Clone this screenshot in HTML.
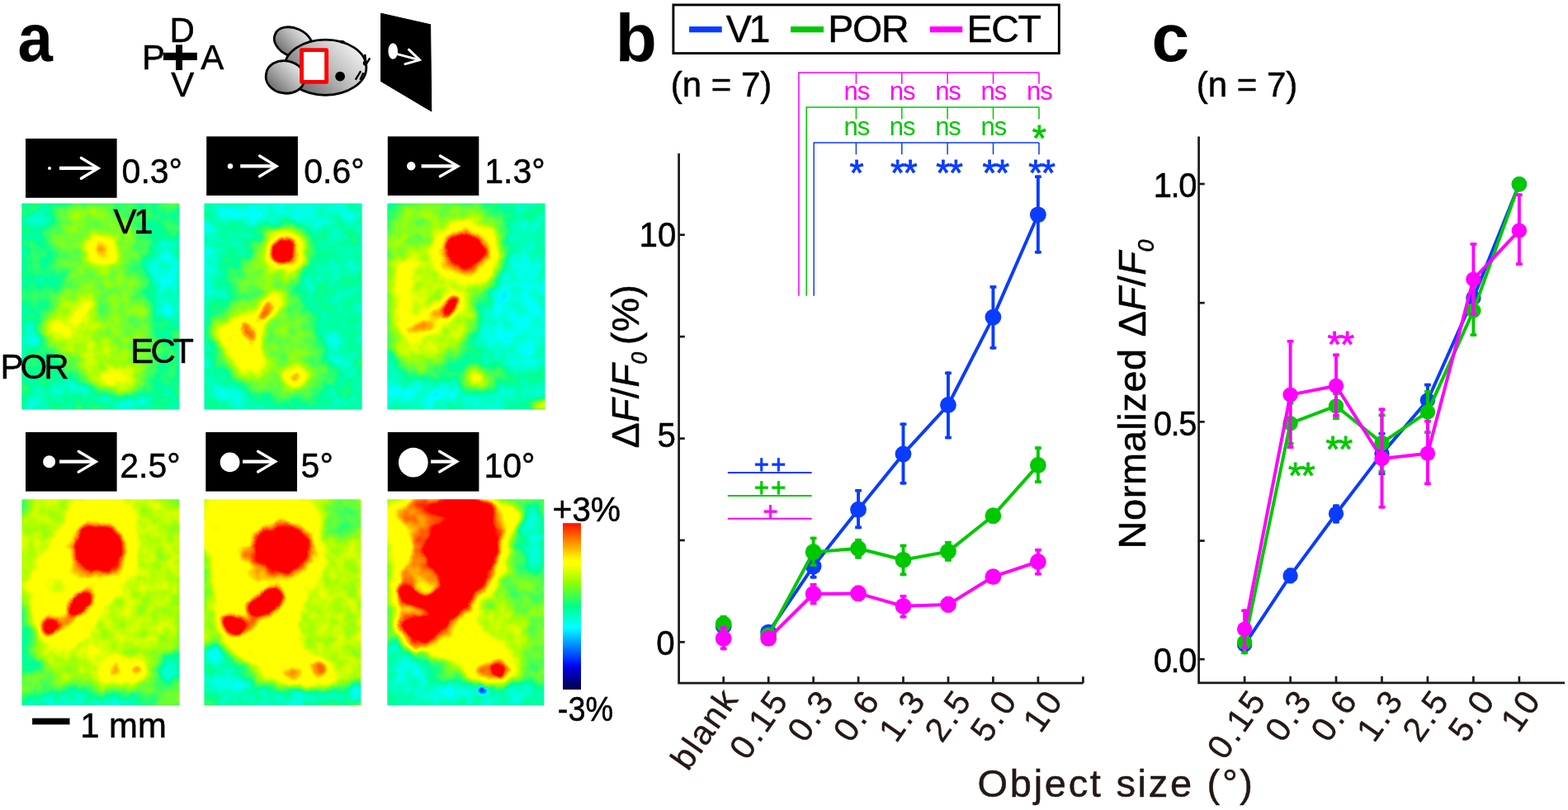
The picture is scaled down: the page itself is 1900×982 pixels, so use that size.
<!DOCTYPE html>
<html lang="en"><head><meta charset="utf-8"><title>Figure: object size responses in V1, POR and ECT</title>
<style>html,body{margin:0;padding:0;background:#fff;}body{width:1900px;height:982px;overflow:hidden;}svg{display:block;font-family:"Liberation Sans",sans-serif;}text{white-space:pre;}</style>
</head><body>
<svg width="1900" height="982" viewBox="0 0 1900 982">
<defs>
<linearGradient id="gEar1" gradientUnits="userSpaceOnUse" x1="372" y1="38" x2="340" y2="66"><stop offset="0" stop-color="#ebebeb"/><stop offset="0.5" stop-color="#b0b0b0"/><stop offset="1" stop-color="#6a6a6a"/></linearGradient>
<linearGradient id="gEar2" gradientUnits="userSpaceOnUse" x1="362" y1="78" x2="330" y2="110"><stop offset="0" stop-color="#ebebeb"/><stop offset="0.5" stop-color="#b0b0b0"/><stop offset="1" stop-color="#6a6a6a"/></linearGradient>
<linearGradient id="gBody" gradientUnits="userSpaceOnUse" x1="428" y1="54" x2="368" y2="112"><stop offset="0" stop-color="#efefef"/><stop offset="0.5" stop-color="#b8b8b8"/><stop offset="1" stop-color="#707070"/></linearGradient>
<linearGradient id="gBar" x1="0" y1="0" x2="0" y2="1"><stop offset="0.000" stop-color="#ff1000"/><stop offset="0.025" stop-color="#ff2b00"/><stop offset="0.050" stop-color="#ff4700"/><stop offset="0.075" stop-color="#ff6200"/><stop offset="0.100" stop-color="#ff7d00"/><stop offset="0.125" stop-color="#ff9800"/><stop offset="0.150" stop-color="#ffb300"/><stop offset="0.175" stop-color="#ffce00"/><stop offset="0.200" stop-color="#ffe900"/><stop offset="0.225" stop-color="#ffff00"/><stop offset="0.250" stop-color="#ffff00"/><stop offset="0.275" stop-color="#e5ff00"/><stop offset="0.300" stop-color="#ccff00"/><stop offset="0.325" stop-color="#b3ff00"/><stop offset="0.350" stop-color="#99ff00"/><stop offset="0.375" stop-color="#80ff0f"/><stop offset="0.400" stop-color="#66ff27"/><stop offset="0.425" stop-color="#4cff40"/><stop offset="0.450" stop-color="#33ff58"/><stop offset="0.475" stop-color="#1aff71"/><stop offset="0.500" stop-color="#00ff89"/><stop offset="0.525" stop-color="#00ffa2"/><stop offset="0.550" stop-color="#00ffba"/><stop offset="0.575" stop-color="#00ffd3"/><stop offset="0.600" stop-color="#00ffeb"/><stop offset="0.625" stop-color="#00ffff"/><stop offset="0.650" stop-color="#00e9ff"/><stop offset="0.675" stop-color="#00cdff"/><stop offset="0.700" stop-color="#00b1ff"/><stop offset="0.725" stop-color="#0096ff"/><stop offset="0.750" stop-color="#007aff"/><stop offset="0.775" stop-color="#005eff"/><stop offset="0.800" stop-color="#0043ff"/><stop offset="0.825" stop-color="#0027ff"/><stop offset="0.850" stop-color="#000bf4"/><stop offset="0.875" stop-color="#0000d8"/><stop offset="0.900" stop-color="#0000bc"/><stop offset="0.925" stop-color="#0000a0"/><stop offset="0.950" stop-color="#000084"/><stop offset="0.975" stop-color="#000068"/><stop offset="1.000" stop-color="#00004c"/></linearGradient>
<clipPath id="hc0"><rect x="26.2" y="246.6" width="191.1" height="250.0"/></clipPath>
<filter id="jet0" filterUnits="userSpaceOnUse" x="12.2" y="232.6" width="219.1" height="278.0" color-interpolation-filters="sRGB"><feTurbulence type="fractalNoise" baseFrequency="0.04" numOctaves="2" seed="3" result="n"/><feGaussianBlur in="SourceGraphic" stdDeviation="1.6" result="sb"/><feDisplacementMap in="sb" in2="n" scale="9" xChannelSelector="R" yChannelSelector="G" result="d"/><feTurbulence type="fractalNoise" baseFrequency="0.06" numOctaves="2" seed="4" result="n2"/><feColorMatrix in="n2" type="matrix" values="0 0 1 0 0  0 0 1 0 0  0 0 1 0 0  0 0 0 0 1" result="ng"/><feComposite in="d" in2="ng" operator="arithmetic" k1="0" k2="1" k3="0.11" k4="-0.055" result="s"/><feComponentTransfer in="s"><feFuncR type="table" tableValues="0 0 0 0 0 0 0 0 0 0 0 0 0 0 0 0 0 0 0 0 0 0 0 0 0 0 0 0 0 0.092 0.188 0.285 0.382 0.478 0.575 0.671 0.768 0.865 0.961 1 1 1 1 1 1 1 1 1 1 1 1 1 1 1 1 1 1 1 1 1 1"/><feFuncG type="table" tableValues="0 0 0 0 0 0 0 0 0 0 0 0 0 0.068 0.164 0.261 0.357 0.454 0.551 0.647 0.744 0.841 0.937 1 1 1 1 1 1 1 1 1 1 1 1 1 1 1 1 1 1 1 1 0.916 0.808 0.699 0.591 0.482 0.374 0.266 0.157 0.049 0 0 0 0 0 0 0 0 0"/><feFuncB type="table" tableValues="0.28 0.28 0.28 0.28 0.28 0.28 0.3 0.397 0.494 0.592 0.689 0.786 0.883 0.981 1 1 1 1 1 1 1 1 1 1 0.923 0.838 0.752 0.667 0.581 0.496 0.41 0.325 0.239 0.154 0.068 0 0 0 0 0 0 0 0 0 0 0 0 0 0 0 0 0 0 0 0 0 0 0 0 0 0"/><feFuncA type="linear" slope="0" intercept="1"/></feComponentTransfer></filter>
<clipPath id="hc1"><rect x="247.4" y="246.6" width="191.3" height="249.9"/></clipPath>
<filter id="jet1" filterUnits="userSpaceOnUse" x="233.4" y="232.6" width="219.3" height="277.9" color-interpolation-filters="sRGB"><feTurbulence type="fractalNoise" baseFrequency="0.04" numOctaves="2" seed="11" result="n"/><feGaussianBlur in="SourceGraphic" stdDeviation="1.6" result="sb"/><feDisplacementMap in="sb" in2="n" scale="9" xChannelSelector="R" yChannelSelector="G" result="d"/><feTurbulence type="fractalNoise" baseFrequency="0.06" numOctaves="2" seed="12" result="n2"/><feColorMatrix in="n2" type="matrix" values="0 0 1 0 0  0 0 1 0 0  0 0 1 0 0  0 0 0 0 1" result="ng"/><feComposite in="d" in2="ng" operator="arithmetic" k1="0" k2="1" k3="0.11" k4="-0.055" result="s"/><feComponentTransfer in="s"><feFuncR type="table" tableValues="0 0 0 0 0 0 0 0 0 0 0 0 0 0 0 0 0 0 0 0 0 0 0 0 0 0 0 0 0 0.092 0.188 0.285 0.382 0.478 0.575 0.671 0.768 0.865 0.961 1 1 1 1 1 1 1 1 1 1 1 1 1 1 1 1 1 1 1 1 1 1"/><feFuncG type="table" tableValues="0 0 0 0 0 0 0 0 0 0 0 0 0 0.068 0.164 0.261 0.357 0.454 0.551 0.647 0.744 0.841 0.937 1 1 1 1 1 1 1 1 1 1 1 1 1 1 1 1 1 1 1 1 0.916 0.808 0.699 0.591 0.482 0.374 0.266 0.157 0.049 0 0 0 0 0 0 0 0 0"/><feFuncB type="table" tableValues="0.28 0.28 0.28 0.28 0.28 0.28 0.3 0.397 0.494 0.592 0.689 0.786 0.883 0.981 1 1 1 1 1 1 1 1 1 1 0.923 0.838 0.752 0.667 0.581 0.496 0.41 0.325 0.239 0.154 0.068 0 0 0 0 0 0 0 0 0 0 0 0 0 0 0 0 0 0 0 0 0 0 0 0 0 0"/><feFuncA type="linear" slope="0" intercept="1"/></feComponentTransfer></filter>
<clipPath id="hc2"><rect x="469.3" y="246.6" width="191.2" height="249.9"/></clipPath>
<filter id="jet2" filterUnits="userSpaceOnUse" x="455.3" y="232.6" width="219.2" height="277.9" color-interpolation-filters="sRGB"><feTurbulence type="fractalNoise" baseFrequency="0.04" numOctaves="2" seed="23" result="n"/><feGaussianBlur in="SourceGraphic" stdDeviation="1.6" result="sb"/><feDisplacementMap in="sb" in2="n" scale="9" xChannelSelector="R" yChannelSelector="G" result="d"/><feTurbulence type="fractalNoise" baseFrequency="0.06" numOctaves="2" seed="24" result="n2"/><feColorMatrix in="n2" type="matrix" values="0 0 1 0 0  0 0 1 0 0  0 0 1 0 0  0 0 0 0 1" result="ng"/><feComposite in="d" in2="ng" operator="arithmetic" k1="0" k2="1" k3="0.11" k4="-0.055" result="s"/><feComponentTransfer in="s"><feFuncR type="table" tableValues="0 0 0 0 0 0 0 0 0 0 0 0 0 0 0 0 0 0 0 0 0 0 0 0 0 0 0 0 0 0.092 0.188 0.285 0.382 0.478 0.575 0.671 0.768 0.865 0.961 1 1 1 1 1 1 1 1 1 1 1 1 1 1 1 1 1 1 1 1 1 1"/><feFuncG type="table" tableValues="0 0 0 0 0 0 0 0 0 0 0 0 0 0.068 0.164 0.261 0.357 0.454 0.551 0.647 0.744 0.841 0.937 1 1 1 1 1 1 1 1 1 1 1 1 1 1 1 1 1 1 1 1 0.916 0.808 0.699 0.591 0.482 0.374 0.266 0.157 0.049 0 0 0 0 0 0 0 0 0"/><feFuncB type="table" tableValues="0.28 0.28 0.28 0.28 0.28 0.28 0.3 0.397 0.494 0.592 0.689 0.786 0.883 0.981 1 1 1 1 1 1 1 1 1 1 0.923 0.838 0.752 0.667 0.581 0.496 0.41 0.325 0.239 0.154 0.068 0 0 0 0 0 0 0 0 0 0 0 0 0 0 0 0 0 0 0 0 0 0 0 0 0 0"/><feFuncA type="linear" slope="0" intercept="1"/></feComponentTransfer></filter>
<clipPath id="hc3"><rect x="26.4" y="605.2" width="190.9" height="249.7"/></clipPath>
<filter id="jet3" filterUnits="userSpaceOnUse" x="12.399999999999999" y="591.2" width="218.9" height="277.7" color-interpolation-filters="sRGB"><feTurbulence type="fractalNoise" baseFrequency="0.04" numOctaves="2" seed="31" result="n"/><feGaussianBlur in="SourceGraphic" stdDeviation="1.6" result="sb"/><feDisplacementMap in="sb" in2="n" scale="9" xChannelSelector="R" yChannelSelector="G" result="d"/><feTurbulence type="fractalNoise" baseFrequency="0.06" numOctaves="2" seed="32" result="n2"/><feColorMatrix in="n2" type="matrix" values="0 0 1 0 0  0 0 1 0 0  0 0 1 0 0  0 0 0 0 1" result="ng"/><feComposite in="d" in2="ng" operator="arithmetic" k1="0" k2="1" k3="0.11" k4="-0.055" result="s"/><feComponentTransfer in="s"><feFuncR type="table" tableValues="0 0 0 0 0 0 0 0 0 0 0 0 0 0 0 0 0 0 0 0 0 0 0 0 0 0 0 0 0 0.092 0.188 0.285 0.382 0.478 0.575 0.671 0.768 0.865 0.961 1 1 1 1 1 1 1 1 1 1 1 1 1 1 1 1 1 1 1 1 1 1"/><feFuncG type="table" tableValues="0 0 0 0 0 0 0 0 0 0 0 0 0 0.068 0.164 0.261 0.357 0.454 0.551 0.647 0.744 0.841 0.937 1 1 1 1 1 1 1 1 1 1 1 1 1 1 1 1 1 1 1 1 0.916 0.808 0.699 0.591 0.482 0.374 0.266 0.157 0.049 0 0 0 0 0 0 0 0 0"/><feFuncB type="table" tableValues="0.28 0.28 0.28 0.28 0.28 0.28 0.3 0.397 0.494 0.592 0.689 0.786 0.883 0.981 1 1 1 1 1 1 1 1 1 1 0.923 0.838 0.752 0.667 0.581 0.496 0.41 0.325 0.239 0.154 0.068 0 0 0 0 0 0 0 0 0 0 0 0 0 0 0 0 0 0 0 0 0 0 0 0 0 0"/><feFuncA type="linear" slope="0" intercept="1"/></feComponentTransfer></filter>
<clipPath id="hc4"><rect x="247.4" y="605.2" width="190.0" height="249.7"/></clipPath>
<filter id="jet4" filterUnits="userSpaceOnUse" x="233.4" y="591.2" width="218.0" height="277.7" color-interpolation-filters="sRGB"><feTurbulence type="fractalNoise" baseFrequency="0.04" numOctaves="2" seed="47" result="n"/><feGaussianBlur in="SourceGraphic" stdDeviation="1.6" result="sb"/><feDisplacementMap in="sb" in2="n" scale="9" xChannelSelector="R" yChannelSelector="G" result="d"/><feTurbulence type="fractalNoise" baseFrequency="0.06" numOctaves="2" seed="48" result="n2"/><feColorMatrix in="n2" type="matrix" values="0 0 1 0 0  0 0 1 0 0  0 0 1 0 0  0 0 0 0 1" result="ng"/><feComposite in="d" in2="ng" operator="arithmetic" k1="0" k2="1" k3="0.11" k4="-0.055" result="s"/><feComponentTransfer in="s"><feFuncR type="table" tableValues="0 0 0 0 0 0 0 0 0 0 0 0 0 0 0 0 0 0 0 0 0 0 0 0 0 0 0 0 0 0.092 0.188 0.285 0.382 0.478 0.575 0.671 0.768 0.865 0.961 1 1 1 1 1 1 1 1 1 1 1 1 1 1 1 1 1 1 1 1 1 1"/><feFuncG type="table" tableValues="0 0 0 0 0 0 0 0 0 0 0 0 0 0.068 0.164 0.261 0.357 0.454 0.551 0.647 0.744 0.841 0.937 1 1 1 1 1 1 1 1 1 1 1 1 1 1 1 1 1 1 1 1 0.916 0.808 0.699 0.591 0.482 0.374 0.266 0.157 0.049 0 0 0 0 0 0 0 0 0"/><feFuncB type="table" tableValues="0.28 0.28 0.28 0.28 0.28 0.28 0.3 0.397 0.494 0.592 0.689 0.786 0.883 0.981 1 1 1 1 1 1 1 1 1 1 0.923 0.838 0.752 0.667 0.581 0.496 0.41 0.325 0.239 0.154 0.068 0 0 0 0 0 0 0 0 0 0 0 0 0 0 0 0 0 0 0 0 0 0 0 0 0 0"/><feFuncA type="linear" slope="0" intercept="1"/></feComponentTransfer></filter>
<clipPath id="hc5"><rect x="469.3" y="605.2" width="190.0" height="249.7"/></clipPath>
<filter id="jet5" filterUnits="userSpaceOnUse" x="455.3" y="591.2" width="218.0" height="277.7" color-interpolation-filters="sRGB"><feTurbulence type="fractalNoise" baseFrequency="0.04" numOctaves="2" seed="59" result="n"/><feGaussianBlur in="SourceGraphic" stdDeviation="1.6" result="sb"/><feDisplacementMap in="sb" in2="n" scale="9" xChannelSelector="R" yChannelSelector="G" result="d"/><feTurbulence type="fractalNoise" baseFrequency="0.06" numOctaves="2" seed="60" result="n2"/><feColorMatrix in="n2" type="matrix" values="0 0 1 0 0  0 0 1 0 0  0 0 1 0 0  0 0 0 0 1" result="ng"/><feComposite in="d" in2="ng" operator="arithmetic" k1="0" k2="1" k3="0.11" k4="-0.055" result="s"/><feComponentTransfer in="s"><feFuncR type="table" tableValues="0 0 0 0 0 0 0 0 0 0 0 0 0 0 0 0 0 0 0 0 0 0 0 0 0 0 0 0 0 0.092 0.188 0.285 0.382 0.478 0.575 0.671 0.768 0.865 0.961 1 1 1 1 1 1 1 1 1 1 1 1 1 1 1 1 1 1 1 1 1 1"/><feFuncG type="table" tableValues="0 0 0 0 0 0 0 0 0 0 0 0 0 0.068 0.164 0.261 0.357 0.454 0.551 0.647 0.744 0.841 0.937 1 1 1 1 1 1 1 1 1 1 1 1 1 1 1 1 1 1 1 1 0.916 0.808 0.699 0.591 0.482 0.374 0.266 0.157 0.049 0 0 0 0 0 0 0 0 0"/><feFuncB type="table" tableValues="0.28 0.28 0.28 0.28 0.28 0.28 0.3 0.397 0.494 0.592 0.689 0.786 0.883 0.981 1 1 1 1 1 1 1 1 1 1 0.923 0.838 0.752 0.667 0.581 0.496 0.41 0.325 0.239 0.154 0.068 0 0 0 0 0 0 0 0 0 0 0 0 0 0 0 0 0 0 0 0 0 0 0 0 0 0"/><feFuncA type="linear" slope="0" intercept="1"/></feComponentTransfer></filter>
<filter id="bl1_5" filterUnits="userSpaceOnUse" x="0" y="230" width="680" height="640" color-interpolation-filters="sRGB"><feGaussianBlur stdDeviation="1.5"/></filter>
<filter id="bl2_5" filterUnits="userSpaceOnUse" x="0" y="230" width="680" height="640" color-interpolation-filters="sRGB"><feGaussianBlur stdDeviation="2.5"/></filter>
<filter id="bl3" filterUnits="userSpaceOnUse" x="0" y="230" width="680" height="640" color-interpolation-filters="sRGB"><feGaussianBlur stdDeviation="3"/></filter>
<filter id="bl3_5" filterUnits="userSpaceOnUse" x="0" y="230" width="680" height="640" color-interpolation-filters="sRGB"><feGaussianBlur stdDeviation="3.5"/></filter>
<filter id="bl4" filterUnits="userSpaceOnUse" x="0" y="230" width="680" height="640" color-interpolation-filters="sRGB"><feGaussianBlur stdDeviation="4"/></filter>
<filter id="bl4_5" filterUnits="userSpaceOnUse" x="0" y="230" width="680" height="640" color-interpolation-filters="sRGB"><feGaussianBlur stdDeviation="4.5"/></filter>
<filter id="bl5" filterUnits="userSpaceOnUse" x="0" y="230" width="680" height="640" color-interpolation-filters="sRGB"><feGaussianBlur stdDeviation="5"/></filter>
<filter id="bl5_5" filterUnits="userSpaceOnUse" x="0" y="230" width="680" height="640" color-interpolation-filters="sRGB"><feGaussianBlur stdDeviation="5.5"/></filter>
<filter id="bl6" filterUnits="userSpaceOnUse" x="0" y="230" width="680" height="640" color-interpolation-filters="sRGB"><feGaussianBlur stdDeviation="6"/></filter>
<filter id="bl7" filterUnits="userSpaceOnUse" x="0" y="230" width="680" height="640" color-interpolation-filters="sRGB"><feGaussianBlur stdDeviation="7"/></filter>
<filter id="bl8" filterUnits="userSpaceOnUse" x="0" y="230" width="680" height="640" color-interpolation-filters="sRGB"><feGaussianBlur stdDeviation="8"/></filter>
<filter id="bl10" filterUnits="userSpaceOnUse" x="0" y="230" width="680" height="640" color-interpolation-filters="sRGB"><feGaussianBlur stdDeviation="10"/></filter>
</defs>
<rect width="1900" height="982" fill="#fff"/>
<g id="panel-a">
<text transform="translate(21.4 74) scale(0.93 1)" font-size="82" fill="#000" font-weight="bold" >a</text>
<text x="205.6" y="51.0" font-size="42" fill="#000" stroke="#000" stroke-width="0.5">D</text>
<text x="172.0" y="84.0" font-size="42" fill="#000" stroke="#000" stroke-width="0.5">P</text>
<text x="243.2" y="84.2" font-size="42" fill="#000" stroke="#000" stroke-width="0.5">A</text>
<text x="207.2" y="116.8" font-size="42" fill="#000" stroke="#000" stroke-width="0.5">V</text>
<rect x="198" y="63.8" width="40.8" height="9.2" fill="#000"/>
<rect x="213" y="54.3" width="8" height="30.7" fill="#000"/>
<g stroke="#000" stroke-width="2.8" stroke-linejoin="round">
<path d="M333.5 41.4A24.0 16.6 24 1 1 377.3 61.0A24.0 16.6 24 1 1 333.5 41.4Z" fill="url(#gEar1)"/>
<path d="M344.7 81.7A49.6 33.6 0 1 1 443.9 81.7A49.6 33.6 0 1 1 344.7 81.7Z" fill="url(#gBody)"/>
<path d="M322.6 89.3A23.4 18.6 10 1 1 368.6 97.5A23.4 18.6 10 1 1 322.6 89.3Z" fill="url(#gEar2)"/>
</g>
<rect x="365.5" y="60.6" width="30.1" height="38.8" fill="#fff" stroke="#ff0000" stroke-width="4.9" stroke-linejoin="round"/>
<circle cx="412.1" cy="92.6" r="5.9" fill="#000"/>
<g stroke="#000" stroke-width="2.4" stroke-linecap="butt" fill="none">
<path d="M430.8 96.6 L437.2 86.2 M436.4 96.8 L440.4 88.2"/>
<path d="M442.2 65.8 L443.3 74.6 M448.3 70.4 L442.6 79.6"/>
</g>
<ellipse cx="442.0" cy="76.6" rx="2.2" ry="2.8" fill="#000"/>
<ellipse cx="414.8" cy="50.9" rx="3.4" ry="2.0" transform="rotate(14 414.8 50.9)" fill="#000"/>
<path d="M461.6 16.2 L521.6 29.8 L522.8 135 L461.6 98.6 Z" fill="#000" stroke="#000" stroke-width="1" stroke-linejoin="round"/>
<ellipse cx="476.2" cy="62" rx="5.8" ry="9.8" fill="#fff"/>
<g stroke="#fff" stroke-width="3" stroke-linecap="round" stroke-linejoin="miter" fill="none">
<path d="M481.5 65.6 L507 72.4"/>
<path d="M495.4 60.2 L508.4 72.6 L491 77.6"/>
</g>
<rect x="31.0" y="168.0" width="110.6" height="71.8" fill="#000"/>
<circle cx="60.0" cy="203.9" r="2.0" fill="#fff"/>
<path d="M72.0 203.9 L117.4 203.9" stroke="#fff" stroke-width="4.2" fill="none"/>
<path d="M98.4 191.5 L119.0 203.9 L98.4 216.3" stroke="#fff" stroke-width="3.4" stroke-linecap="round" stroke-linejoin="miter" stroke-miterlimit="10" fill="none"/>
<text transform="translate(147.6 222.0) scale(0.965 1)" font-size="42.5" fill="#000" stroke="#000" stroke-width="0.5">0.3°</text>
<rect x="250.2" y="165.4" width="110.7" height="71.7" fill="#000"/>
<circle cx="279.0" cy="201.5" r="3.2" fill="#fff"/>
<path d="M291.2 201.4 L333.4 201.4" stroke="#fff" stroke-width="4.2" fill="none"/>
<path d="M314.6 189.0 L335.0 201.4 L314.6 213.8" stroke="#fff" stroke-width="3.4" stroke-linecap="round" stroke-linejoin="miter" stroke-miterlimit="10" fill="none"/>
<text transform="translate(368.2 222.0) scale(0.965 1)" font-size="42.5" fill="#000" stroke="#000" stroke-width="0.5">0.6°</text>
<rect x="469.8" y="165.4" width="110.5" height="71.7" fill="#000"/>
<circle cx="498.2" cy="201.3" r="5.2" fill="#fff"/>
<path d="M510.6 201.4 L553.2 201.4" stroke="#fff" stroke-width="4.2" fill="none"/>
<path d="M533.4 189.0 L554.8 201.4 L533.4 213.8" stroke="#fff" stroke-width="3.4" stroke-linecap="round" stroke-linejoin="miter" stroke-miterlimit="10" fill="none"/>
<text transform="translate(587.2 222.0) scale(0.965 1)" font-size="42.5" fill="#000" stroke="#000" stroke-width="0.5">1.3°</text>
<rect x="31.0" y="523.9" width="110.6" height="71.8" fill="#000"/>
<circle cx="59.6" cy="559.8" r="7.5" fill="#fff"/>
<path d="M72.0 559.7 L114.6 559.7" stroke="#fff" stroke-width="4.2" fill="none"/>
<path d="M95.2 547.3000000000001 L116.2 559.7 L95.2 572.1" stroke="#fff" stroke-width="3.4" stroke-linecap="round" stroke-linejoin="miter" stroke-miterlimit="10" fill="none"/>
<text transform="translate(145.2 578.6) scale(0.965 1)" font-size="42.5" fill="#000" stroke="#000" stroke-width="0.5">2.5°</text>
<rect x="249.3" y="523.9" width="110.7" height="71.8" fill="#000"/>
<circle cx="278.6" cy="560.4" r="11.9" fill="#fff"/>
<path d="M294.0 559.6 L332.0 559.6" stroke="#fff" stroke-width="4.2" fill="none"/>
<path d="M312.6 547.2 L333.6 559.6 L312.6 572.0" stroke="#fff" stroke-width="3.4" stroke-linecap="round" stroke-linejoin="miter" stroke-miterlimit="10" fill="none"/>
<text transform="translate(364.6 578.6) scale(0.965 1)" font-size="42.5" fill="#000" stroke="#000" stroke-width="0.5">5°</text>
<rect x="469.8" y="523.9" width="110.6" height="71.8" fill="#000"/>
<circle cx="500.8" cy="560.7" r="17.9" fill="#fff"/>
<path d="M522.0 559.6 L552.0 559.6" stroke="#fff" stroke-width="4.2" fill="none"/>
<path d="M532.6 547.2 L553.6 559.6 L532.6 572.0" stroke="#fff" stroke-width="3.4" stroke-linecap="round" stroke-linejoin="miter" stroke-miterlimit="10" fill="none"/>
<text transform="translate(586.4 578.6) scale(0.965 1)" font-size="42.5" fill="#000" stroke="#000" stroke-width="0.5">10°</text>
<g clip-path="url(#hc0)"><g filter="url(#jet0)">
<rect x="-3.8000000000000007" y="216.6" width="251.1" height="310.0" fill="#797979"/>
<g fill="#8c8c8c" filter="url(#bl10)">
<path d="M73.0 255.9C100.0 240.8 129.1 234.4 157.7 255.9C186.3 277.3 160.4 284.5 168.3 327.4C176.2 370.3 181.0 361.6 184.2 398.9C187.4 436.2 198.0 429.6 178.9 451.9C159.8 474.1 152.4 481.0 120.6 473.1C88.9 465.1 92.8 450.8 73.0 425.4C53.1 400.0 50.5 412.1 54.4 388.3C58.4 364.5 82.2 370.6 86.2 345.9C90.2 321.3 71.6 333.2 67.7 306.2C63.7 279.2 46.0 271.0 73.0 255.9Z"/>
<ellipse cx="205.4" cy="247.9" rx="15.9" ry="10.6"/>
</g>
<g fill="#686868" filter="url(#bl6)">
<ellipse cx="200.1" cy="327.4" rx="18.5" ry="34.4"/>
<ellipse cx="205.4" cy="372.4" rx="13.2" ry="15.9"/>
<ellipse cx="35.9" cy="409.5" rx="10.6" ry="15.9"/>
<ellipse cx="86.2" cy="470.4" rx="31.8" ry="7.9"/>
<ellipse cx="46.5" cy="488.9" rx="21.2" ry="6.6"/>
<ellipse cx="152.4" cy="486.3" rx="39.7" ry="6.6"/>
<ellipse cx="46.5" cy="266.5" rx="15.9" ry="10.6"/>
</g>
<g fill="#959595" filter="url(#bl7)">
<path d="M80.9 353.9C96.0 345.1 96.5 345.7 110.0 359.2C123.5 372.7 108.5 374.3 125.9 398.9C143.4 423.5 155.6 420.6 168.3 441.3C181.0 461.9 181.0 458.2 168.3 467.8C155.6 477.3 148.2 481.0 125.9 473.1C103.7 465.1 114.8 460.3 94.2 441.3C73.5 422.2 67.4 425.4 57.1 409.5C46.7 393.6 52.6 405.0 59.7 388.3C66.9 371.6 65.8 362.6 80.9 353.9Z"/>
<ellipse cx="122.0" cy="303.6" rx="22.5" ry="22.5"/>
</g>
<g fill="#aaaaaa" filter="url(#bl5_5)">
<path d="M106.1 367.1L83.6 404.2" fill="none" stroke="#aaaaaa" stroke-width="11.7" stroke-linecap="round"/>
<ellipse cx="65.0" cy="398.9" rx="13.2" ry="6.4"/>
<ellipse cx="139.2" cy="457.2" rx="19.9" ry="9.0"/>
</g>
<g fill="#b3b3b3" filter="url(#bl4_5)">
<ellipse cx="122.0" cy="303.6" rx="18.0" ry="18.0"/>
</g>
<g fill="#c6c6c6" filter="url(#bl3)">
<ellipse cx="122.0" cy="303.0" rx="7.4" ry="6.4"/>
</g>
</g></g>
<g clip-path="url(#hc1)"><g filter="url(#jet1)">
<rect x="217.4" y="216.6" width="251.3" height="309.9" fill="#737373"/>
<g fill="#676767" filter="url(#bl6)">
<ellipse cx="345.9" cy="258.5" rx="92.7" ry="13.2"/>
<ellipse cx="250.6" cy="319.4" rx="7.9" ry="53.0"/>
<ellipse cx="401.5" cy="425.4" rx="15.9" ry="18.5"/>
<ellipse cx="255.9" cy="412.1" rx="10.6" ry="21.2"/>
<ellipse cx="279.7" cy="478.3" rx="26.5" ry="10.6"/>
</g>
<g fill="#8a8a8a" filter="url(#bl10)">
<ellipse cx="319.4" cy="332.7" rx="39.7" ry="26.5"/>
<path d="M306.2 351.2C335.6 342.5 334.5 336.9 359.2 359.2C383.8 381.4 376.4 393.6 388.3 425.4C400.2 457.2 419.6 449.2 398.9 465.1C378.2 481.0 359.2 490.3 319.4 478.3C279.7 466.4 284.0 452.4 266.5 425.4C249.0 398.4 249.3 410.6 261.2 388.3C273.1 366.1 276.8 360.0 306.2 351.2Z"/>
</g>
<g fill="#949494" filter="url(#bl7)">
<ellipse cx="343.8" cy="304.9" rx="31.8" ry="32.8"/>
<path d="M327.4 351.2C340.9 349.6 346.7 352.8 345.9 367.1C345.1 381.4 331.1 375.1 324.7 398.9C318.4 422.7 332.7 428.3 324.7 446.6C316.8 464.8 318.1 469.3 298.3 459.8C278.4 450.3 267.3 437.8 258.5 414.8C249.8 391.7 256.4 395.7 269.1 383.0C281.8 370.3 283.4 381.9 300.9 372.4C318.4 362.9 313.9 352.8 327.4 351.2Z"/>
<ellipse cx="357.8" cy="455.8" rx="21.2" ry="19.1"/>
</g>
<g fill="#acacac" filter="url(#bl4_5)">
<ellipse cx="343.8" cy="304.9" rx="24.4" ry="25.4"/>
<path d="M327.4 359.2C338.5 355.2 342.1 355.2 339.3 367.1C336.5 379.0 325.3 377.4 318.1 398.9C311.0 420.3 321.0 423.5 315.5 438.6C309.9 453.7 314.3 457.2 299.6 449.2C284.9 441.3 273.2 429.6 266.5 412.1C259.7 394.7 266.4 400.5 277.1 391.0C287.8 381.4 287.1 389.9 302.2 380.4C317.3 370.8 316.3 363.1 327.4 359.2Z"/>
<ellipse cx="357.8" cy="455.8" rx="13.8" ry="12.7"/>
</g>
<g fill="#c9c9c9" filter="url(#bl2_5)">
<path d="M326.1 371.1L315.5 383.0" fill="none" stroke="#c9c9c9" stroke-width="11.1" stroke-linecap="round"/>
<path d="M297.7 396.2L304.9 408.2" fill="none" stroke="#c9c9c9" stroke-width="12.2" stroke-linecap="round"/>
<ellipse cx="358.4" cy="455.8" rx="3.2" ry="6.4"/>
</g>
<g fill="#bdbdbd" filter="url(#bl3_5)">
<ellipse cx="343.8" cy="304.9" rx="16.4" ry="18.5" transform="rotate(20 343.8 304.9)"/>
</g>
<g fill="#ffffff" filter="url(#bl4_5)">
<ellipse cx="343.8" cy="304.9" rx="11.7" ry="13.8" transform="rotate(20 343.8 304.9)"/>
</g>
</g></g>
<g clip-path="url(#hc2)"><g filter="url(#jet2)">
<rect x="439.3" y="216.6" width="251.2" height="309.9" fill="#717171"/>
<g fill="#676767" filter="url(#bl8)">
<ellipse cx="624.2" cy="372.4" rx="42.4" ry="68.9"/>
<ellipse cx="539.4" cy="478.3" rx="79.4" ry="15.9"/>
<ellipse cx="475.9" cy="446.6" rx="10.6" ry="10.6"/>
</g>
<g fill="#8e8e8e" filter="url(#bl10)">
<path d="M475.9 255.9C511.6 219.3 552.7 239.5 592.4 250.6C632.1 261.7 606.7 264.4 608.3 293.0C609.9 321.6 612.0 314.2 597.7 345.9C583.4 377.7 575.7 370.3 560.6 398.9C545.5 427.5 569.6 427.0 547.4 441.3C525.1 455.6 508.7 467.2 486.5 446.6C464.2 425.9 476.4 429.6 473.2 372.4C470.1 315.2 440.1 292.4 475.9 255.9Z"/>
<ellipse cx="584.5" cy="457.2" rx="29.1" ry="13.2"/>
</g>
<g fill="#989898" filter="url(#bl7)">
<ellipse cx="563.3" cy="306.2" rx="46.3" ry="43.7"/>
<path d="M475.9 308.9C495.8 293.0 510.8 302.8 539.4 319.4C568.1 336.1 566.5 334.3 571.2 364.5C576.0 394.7 580.8 401.8 555.3 420.1C529.9 438.4 511.1 439.7 486.5 425.4C461.9 411.1 476.4 407.4 473.2 372.4C470.1 337.5 456.0 324.7 475.9 308.9Z"/>
<ellipse cx="577.8" cy="459.8" rx="15.9" ry="11.9"/>
</g>
<g fill="#acacac" filter="url(#bl4_5)">
<ellipse cx="563.3" cy="306.2" rx="39.7" ry="37.1"/>
<ellipse cx="577.8" cy="459.8" rx="8.5" ry="6.4"/>
<ellipse cx="656.0" cy="490.3" rx="10.6" ry="5.3"/>
<path d="M551.4 367.1L509.0 398.9" fill="none" stroke="#acacac" stroke-width="26.5" stroke-linecap="round"/>
<path d="M482.5 324.7C488.1 310.4 495.4 305.1 499.7 319.4C504.1 333.8 493.1 345.4 497.1 372.4C501.0 399.4 514.6 398.4 513.0 409.5C511.4 420.6 501.3 422.2 491.8 409.5C482.2 396.8 484.0 392.5 481.2 367.1C478.4 341.7 476.9 339.0 482.5 324.7Z"/>
</g>
<g fill="#9a9a9a" filter="url(#bl5)">
<ellipse cx="513.0" cy="351.2" rx="10.6" ry="13.2"/>
</g>
<g fill="#c0c0c0" filter="url(#bl3)">
<ellipse cx="510.3" cy="397.6" rx="18.5" ry="7.9" transform="rotate(-10 510.3 397.6)"/>
<ellipse cx="524.9" cy="380.4" rx="7.9" ry="6.4"/>
</g>
<g fill="#bdbdbd" filter="url(#bl4)">
<ellipse cx="562.0" cy="306.7" rx="29.1" ry="26.5"/>
</g>
<g fill="#ffffff" filter="url(#bl5_5)">
<path d="M544.2 291.9C549.1 287.0 549.1 287.0 558.5 286.1C567.9 285.1 567.7 284.1 575.5 288.7C583.3 293.3 582.9 294.0 584.5 301.4C586.1 308.9 586.5 306.6 580.8 313.6C575.0 320.6 572.1 321.2 565.4 324.7C558.7 328.2 563.9 329.4 558.5 325.3C553.1 321.1 552.3 317.8 547.4 311.0C542.5 304.1 543.1 308.2 542.1 302.5C541.1 296.8 539.3 296.8 544.2 291.9Z"/>
</g>
<g fill="#ffffff" filter="url(#bl3_5)">
<path d="M552.7 365.0L537.3 378.8" fill="none" stroke="#ffffff" stroke-width="8.5" stroke-linecap="round"/>
</g>
</g></g>
<g clip-path="url(#hc3)"><g filter="url(#jet3)">
<rect x="-3.6000000000000014" y="575.2" width="250.9" height="309.7" fill="#8c8c8c"/>
<g fill="#6c6c6c" filter="url(#bl7)">
<ellipse cx="99.4" cy="850.3" rx="92.7" ry="11.9"/>
<ellipse cx="205.4" cy="811.9" rx="15.9" ry="21.2"/>
<ellipse cx="27.9" cy="772.1" rx="7.9" ry="39.7"/>
<ellipse cx="30.6" cy="621.2" rx="10.6" ry="15.9"/>
</g>
<g fill="#676767" filter="url(#bl5)">
<ellipse cx="41.2" cy="806.6" rx="10.6" ry="7.9"/>
<ellipse cx="99.4" cy="838.3" rx="15.9" ry="6.6"/>
<ellipse cx="202.7" cy="809.2" rx="10.6" ry="13.2"/>
</g>
<g fill="#989898" filter="url(#bl10)">
<path d="M35.9 610.6C89.1 565.3 161.9 571.4 216.0 607.9C270.0 644.5 223.9 674.4 216.0 732.4C208.0 790.4 216.5 771.1 189.5 801.3C162.5 831.5 160.9 829.9 125.9 833.1C91.0 836.2 99.2 834.1 73.0 811.9C46.7 789.6 49.7 819.3 38.5 758.9C27.4 698.5 -17.3 655.9 35.9 610.6Z"/>
</g>
<g fill="#9d9d9d" filter="url(#bl6)">
<path d="M110.0 769.5L128.6 806.6" fill="none" stroke="#9d9d9d" stroke-width="21.2" stroke-linecap="round"/>
</g>
<g fill="#acacac" filter="url(#bl5)">
<path d="M99.4 607.9C123.3 599.2 133.0 597.1 152.4 610.6C171.9 624.1 162.7 626.0 164.3 653.0C165.9 680.0 167.6 676.8 157.7 700.6C147.8 724.5 144.7 714.9 131.2 732.4C117.7 749.9 123.8 744.6 112.7 758.9C101.6 773.2 110.0 773.7 94.2 780.1C78.3 786.4 75.6 789.6 59.7 780.1C43.8 770.6 46.7 774.5 41.2 748.3C35.6 722.1 31.7 725.3 41.2 692.7C50.7 660.1 55.5 665.1 73.0 639.7C90.4 614.3 75.6 616.7 99.4 607.9Z"/>
<ellipse cx="147.1" cy="811.9" rx="31.8" ry="15.4"/>
</g>
<g fill="#989898" filter="url(#bl5)">
<ellipse cx="65.0" cy="711.2" rx="10.6" ry="11.9"/>
<ellipse cx="51.8" cy="653.0" rx="10.6" ry="18.5"/>
</g>
<g fill="#c6c6c6" filter="url(#bl3)">
<ellipse cx="139.2" cy="814.0" rx="6.6" ry="5.8"/>
<ellipse cx="163.0" cy="810.5" rx="5.8" ry="6.6"/>
<path d="M71.6 757.6L86.2 748.3" fill="none" stroke="#c6c6c6" stroke-width="10.6" stroke-linecap="round"/>
</g>
<g fill="#bdbdbd" filter="url(#bl4)">
<ellipse cx="100.8" cy="691.4" rx="14.6" ry="11.9"/>
<ellipse cx="118.5" cy="667.5" rx="33.9" ry="32.3"/>
</g>
<g fill="#ffffff" filter="url(#bl6)">
<path d="M96.8 649.3C103.0 641.2 101.7 643.4 112.7 641.8C123.7 640.3 123.6 638.9 133.3 644.0C143.1 649.0 141.8 649.7 145.3 658.8C148.7 667.8 149.1 665.3 144.7 674.2C140.4 683.1 140.3 682.7 130.7 688.5C121.1 694.3 122.1 694.6 112.7 693.5C103.3 692.4 105.6 692.1 99.4 684.7C93.3 677.4 92.8 679.5 92.0 668.9C91.2 658.2 90.6 657.4 96.8 649.3Z"/>
</g>
<g fill="#ffffff" filter="url(#bl4)">
<path d="M90.4 737.7L104.2 725.0" fill="none" stroke="#ffffff" stroke-width="15.9" stroke-linecap="round"/>
<ellipse cx="61.0" cy="759.4" rx="10.6" ry="7.9"/>
</g>
</g></g>
<g clip-path="url(#hc4)"><g filter="url(#jet4)">
<rect x="217.4" y="575.2" width="250.0" height="309.7" fill="#989898"/>
<g fill="#717171" filter="url(#bl7)">
<path d="M247.9 785.4C257.5 766.3 254.3 776.4 279.7 790.7C305.1 805.0 285.8 820.3 332.7 833.1C379.6 845.8 405.0 826.7 436.0 833.1C467.0 839.4 492.4 847.9 436.0 854.2C379.6 860.6 304.4 874.9 247.9 854.2C191.5 833.6 238.4 804.4 247.9 785.4Z"/>
</g>
<g fill="#676767" filter="url(#bl5)">
<ellipse cx="261.2" cy="798.6" rx="10.6" ry="10.6"/>
<ellipse cx="279.7" cy="833.1" rx="21.2" ry="10.6"/>
<ellipse cx="364.5" cy="842.3" rx="18.5" ry="7.9"/>
<ellipse cx="432.0" cy="838.3" rx="7.9" ry="13.2"/>
</g>
<g fill="#838383" filter="url(#bl8)">
<ellipse cx="414.8" cy="629.1" rx="26.5" ry="26.5"/>
<ellipse cx="247.9" cy="679.4" rx="7.9" ry="66.2"/>
</g>
<g fill="#acacac" filter="url(#bl5)">
<path d="M255.9 610.6C288.5 581.2 327.4 591.3 367.1 607.9C406.8 624.6 385.1 635.2 388.3 666.2C391.5 697.2 387.2 683.4 377.7 711.2C368.2 739.0 353.3 731.9 356.5 758.9C359.7 785.9 372.4 781.4 388.3 801.3C404.2 821.1 422.2 817.2 409.5 825.1C396.8 833.1 376.9 833.3 345.9 827.8C314.9 822.2 328.5 822.5 306.2 806.6C284.0 790.7 286.1 805.0 271.8 774.8C257.5 744.6 263.3 755.2 258.5 705.9C253.8 656.7 223.3 640.0 255.9 610.6Z"/>
</g>
<g fill="#c6c6c6" filter="url(#bl3)">
<ellipse cx="356.5" cy="818.5" rx="10.6" ry="7.4"/>
<ellipse cx="385.7" cy="811.9" rx="10.6" ry="9.0"/>
<path d="M293.0 761.5L308.9 753.6" fill="none" stroke="#c6c6c6" stroke-width="15.9" stroke-linecap="round"/>
<ellipse cx="300.9" cy="671.5" rx="10.6" ry="7.9"/>
</g>
<g fill="#bdbdbd" filter="url(#bl4)">
<ellipse cx="316.8" cy="695.3" rx="15.9" ry="13.2"/>
<ellipse cx="342.0" cy="668.3" rx="39.7" ry="35.5"/>
</g>
<g fill="#ffffff" filter="url(#bl6)">
<path d="M311.0 654.6C315.3 646.3 313.9 647.2 325.8 643.4C337.7 639.6 338.0 639.6 350.7 641.8C363.4 644.1 361.2 644.2 368.2 650.8C375.2 657.5 374.0 655.8 374.0 664.1C374.0 672.4 375.2 670.4 368.2 678.4C361.2 686.3 360.4 685.5 350.7 690.6C341.0 695.7 344.8 696.8 335.9 695.3C327.0 693.9 328.3 693.1 321.0 685.8C313.7 678.5 314.5 680.3 311.5 671.0C308.5 661.6 306.7 662.8 311.0 654.6Z"/>
</g>
<g fill="#ffffff" filter="url(#bl4)">
<path d="M311.0 738.2L331.9 723.9" fill="none" stroke="#ffffff" stroke-width="21.2" stroke-linecap="round"/>
<path d="M269.7 749.9C275.5 746.7 286.4 746.7 292.4 751.0C298.5 755.2 292.8 758.6 289.8 764.2C286.8 769.8 287.5 770.3 282.4 769.5C277.3 768.7 276.7 767.4 272.8 761.5C269.0 755.7 263.8 753.1 269.7 749.9Z"/>
</g>
</g></g>
<g clip-path="url(#hc5)"><g filter="url(#jet5)">
<rect x="439.3" y="575.2" width="250.0" height="309.7" fill="#888888"/>
<g fill="#707070" filter="url(#bl7)">
<path d="M467.9 785.4C481.5 769.5 483.6 787.0 513.0 801.3C542.4 815.6 522.2 824.3 565.9 833.1C609.6 841.8 630.8 824.0 658.6 830.4C686.4 836.8 715.8 847.1 658.6 854.2C601.4 861.4 525.1 874.9 467.9 854.2C410.7 833.6 454.4 801.3 467.9 785.4Z"/>
</g>
<g fill="#676767" filter="url(#bl6)">
<ellipse cx="645.4" cy="653.0" rx="13.2" ry="42.4"/>
<ellipse cx="491.8" cy="811.9" rx="15.9" ry="10.6"/>
<ellipse cx="547.4" cy="838.3" rx="31.8" ry="9.3"/>
<ellipse cx="618.9" cy="841.0" rx="26.5" ry="7.9"/>
<ellipse cx="475.9" cy="785.4" rx="7.9" ry="7.9"/>
</g>
<g fill="#989898" filter="url(#bl8)">
<ellipse cx="608.3" cy="772.1" rx="34.4" ry="39.7"/>
</g>
<g fill="#acacac" filter="url(#bl5)">
<path d="M475.9 607.9C515.6 582.5 566.2 590.5 608.3 607.9C650.4 625.4 617.8 635.2 616.2 666.2C614.7 697.2 614.1 686.6 603.0 711.2C591.9 735.9 574.4 722.9 579.2 748.3C583.9 773.7 605.4 773.7 618.9 796.0C632.4 818.2 636.9 813.7 624.2 822.5C611.5 831.2 599.6 831.5 576.5 825.1C553.5 818.8 566.5 811.6 547.4 801.3C528.3 790.9 532.8 803.4 513.0 790.7C493.1 778.0 492.3 788.3 481.2 758.9C470.1 729.5 477.5 738.0 475.9 692.7C474.3 647.4 436.2 633.4 475.9 607.9Z"/>
</g>
<g fill="#c6c6c6" filter="url(#bl3)">
<path d="M494.4 610.6C522.2 593.1 559.8 587.3 592.4 607.9C625.0 628.6 611.0 640.5 603.0 679.4C595.1 718.4 589.0 707.5 565.9 737.7C542.9 767.9 548.5 769.0 526.2 780.1C504.0 791.2 504.5 795.4 491.8 774.8C479.1 754.1 481.5 743.8 483.8 711.2C486.2 678.7 496.5 696.4 499.7 666.2C502.9 636.0 466.6 628.1 494.4 610.6Z"/>
<ellipse cx="597.7" cy="811.9" rx="21.2" ry="10.6"/>
</g>
<g fill="#ffffff" filter="url(#bl5)">
<path d="M519.6 613.2C538.7 609.7 557.1 597.1 580.5 607.4C603.9 617.7 592.0 627.6 597.7 647.7C603.4 667.7 602.6 659.2 599.6 674.2C596.5 689.1 596.0 683.6 587.6 697.5C579.3 711.4 584.2 705.1 571.8 720.5C559.3 735.9 559.9 734.9 546.1 748.8C532.2 762.7 536.2 758.7 525.7 766.8C515.1 774.9 519.6 775.5 510.8 775.8C502.1 776.2 502.1 774.4 496.5 767.9C491.0 761.4 484.0 761.6 492.3 754.1C500.6 746.7 525.2 752.1 524.1 743.0C523.0 734.0 498.9 733.8 488.6 723.9C478.3 714.1 479.2 712.1 489.7 710.2C500.1 708.3 508.9 719.2 523.6 717.6C538.2 716.0 539.5 716.3 538.4 704.9C537.3 693.4 525.7 693.3 519.9 679.4C514.0 665.6 515.8 671.0 518.8 658.8C521.8 646.6 520.5 647.7 529.9 638.7C539.3 629.6 554.0 634.5 550.0 628.6C546.1 622.7 525.8 623.7 516.7 619.1C507.5 614.5 500.4 616.7 519.6 613.2Z"/>
</g>
<g fill="#ffffff" filter="url(#bl3_5)">
<ellipse cx="603.5" cy="811.1" rx="8.5" ry="6.9"/>
</g>
<g fill="#c6c6c6" filter="url(#bl3)">
<ellipse cx="584.5" cy="812.7" rx="10.6" ry="4.2"/>
</g>
<g fill="#b3b3b3" filter="url(#bl3)">
<ellipse cx="513.0" cy="711.2" rx="13.2" ry="9.3"/>
<path d="M489.1 737.7L520.9 745.7" fill="none" stroke="#b3b3b3" stroke-width="3.2" stroke-linecap="round"/>
</g>
<g fill="#363636" filter="url(#bl1_5)">
<ellipse cx="584.5" cy="837.0" rx="4.8" ry="4.0"/>
</g>
</g></g>
<text x="137.6" y="283.2" font-size="42" fill="#000" letter-spacing="-3.6" stroke="#000" stroke-width="0.5">V1</text>
<text x="0.6" y="458.7" font-size="42" fill="#000" letter-spacing="-4.0" stroke="#000" stroke-width="0.5">POR</text>
<text x="158.2" y="439.9" font-size="42" fill="#000" letter-spacing="-3.7" stroke="#000" stroke-width="0.5">ECT</text>
<rect x="682" y="634.2" width="22" height="201.8" fill="url(#gBar)"/>
<text transform="translate(669.4 632.2) scale(0.97 1)" font-size="42" fill="#000" stroke="#000" stroke-width="0.5">+3%</text>
<text transform="translate(675.8 873.8) scale(0.9 1)" font-size="42" fill="#000" stroke="#000" stroke-width="0.5">-3%</text>
<rect x="39.1" y="870.7" width="45.4" height="7.7" fill="#000"/>
<text transform="translate(97.2 893.8) scale(0.985 1)" font-size="42.5" fill="#000" stroke="#000" stroke-width="0.5">1 mm</text>
</g>
<g id="panel-b">
<text x="745.8" y="73.6" font-size="82" fill="#000" font-weight="bold" >b</text>
<rect x="815.9" y="5.9" width="467.4" height="58.7" fill="#fff" stroke="#000" stroke-width="2.9"/>
<rect x="835.1" y="32.1" width="39.6" height="7.2" fill="#0a3cff"/>
<rect x="958.1" y="32.1" width="39.9" height="7.2" fill="#00c800"/>
<rect x="1126.8" y="32.1" width="39.4" height="7.2" fill="#ff00ff"/>
<text x="879.8" y="51.0" font-size="46.5" fill="#000" letter-spacing="-3.2" stroke="#000" stroke-width="0.5">V1</text>
<text x="1003.2" y="51.0" font-size="46.5" fill="#000" letter-spacing="-1.2" stroke="#000" stroke-width="0.5">POR</text>
<text x="1171.4" y="51.0" font-size="46.5" fill="#000" letter-spacing="-1.2" stroke="#000" stroke-width="0.5">ECT</text>
<text transform="translate(812.8 117.4) scale(1.0 1)" font-size="42" fill="#000" stroke="#000" stroke-width="0.5">(n = 7)</text>
<g stroke="#1a1a1a" stroke-width="2.7" fill="none">
<path d="M822.6 186 V828.2 H1312.4"/>
<path d="M822.6 284.7 H829.8"/>
<path d="M822.6 408.1 H829.8"/>
<path d="M822.6 531.6 H829.8"/>
<path d="M822.6 655.0 H829.8"/>
<path d="M822.6 778.4 H829.8"/>
<path d="M876.7 828.2 V820.2"/>
<path d="M931.2 828.2 V820.2"/>
<path d="M985.6 828.2 V820.2"/>
<path d="M1040.1 828.2 V820.2"/>
<path d="M1094.5 828.2 V820.2"/>
<path d="M1149.0 828.2 V820.2"/>
<path d="M1203.4 828.2 V820.2"/>
<path d="M1257.9 828.2 V820.2"/>
<path d="M1312.4 828.2 V820.2"/>
</g>
<text transform="translate(819.4 299.4) scale(0.96 1)" font-size="42" fill="#000" text-anchor="end" stroke="#000" stroke-width="0.5">10</text>
<text transform="translate(818.8 541.8) scale(0.96 1)" font-size="42" fill="#000" text-anchor="end" stroke="#000" stroke-width="0.5">5</text>
<text transform="translate(817.6 794.4) scale(0.96 1)" font-size="42" fill="#000" text-anchor="end" stroke="#000" stroke-width="0.5">0</text>
<text transform="translate(774.4 543.6) rotate(-90)" font-size="46.5" fill="#000" stroke="#000" stroke-width="0.5" letter-spacing="0.5">Δ<tspan font-style="italic">F</tspan>/<tspan font-style="italic">F</tspan><tspan font-style="italic" font-size="27" dy="9.6" dx="-1">0</tspan><tspan dy="-9.6" dx="8">(%)</tspan></text>
<path d="M967.9 358.8 V88.0 H1259.0 M1037.4 88.0 V101.8 M1092.8 88.0 V101.8 M1148.1 88.0 V101.8 M1203.5 88.0 V101.8 M1259.0 88.0 V101.8" stroke="#ff00ff" stroke-width="1.5" fill="none"/>
<path d="M977.2 358.8 V130.1 H1259.0 M1037.4 130.1 V144.4 M1092.8 130.1 V144.4 M1148.1 130.1 V144.4 M1203.5 130.1 V144.4 M1259.0 130.1 V144.4" stroke="#00c800" stroke-width="1.5" fill="none"/>
<path d="M986.2 358.8 V172.9 H1259.0 M1037.4 172.9 V187.2 M1092.8 172.9 V187.2 M1148.1 172.9 V187.2 M1203.5 172.9 V187.2 M1259.0 172.9 V187.2" stroke="#0a3cff" stroke-width="1.5" fill="none"/>
<text x="1037.8000000000002" y="121.4" font-size="31" fill="#ff00ff" text-anchor="middle" letter-spacing="-1.0" stroke="none">ns</text>
<text x="1093.2" y="121.4" font-size="31" fill="#ff00ff" text-anchor="middle" letter-spacing="-1.0" stroke="none">ns</text>
<text x="1148.5" y="121.4" font-size="31" fill="#ff00ff" text-anchor="middle" letter-spacing="-1.0" stroke="none">ns</text>
<text x="1203.9" y="121.4" font-size="31" fill="#ff00ff" text-anchor="middle" letter-spacing="-1.0" stroke="none">ns</text>
<text x="1259.4" y="121.4" font-size="31" fill="#ff00ff" text-anchor="middle" letter-spacing="-1.0" stroke="none">ns</text>
<text x="1037.8000000000002" y="163.6" font-size="31" fill="#00c800" text-anchor="middle" letter-spacing="-1.0" stroke="none">ns</text>
<text x="1093.2" y="163.6" font-size="31" fill="#00c800" text-anchor="middle" letter-spacing="-1.0" stroke="none">ns</text>
<text x="1148.5" y="163.6" font-size="31" fill="#00c800" text-anchor="middle" letter-spacing="-1.0" stroke="none">ns</text>
<text x="1203.9" y="163.6" font-size="31" fill="#00c800" text-anchor="middle" letter-spacing="-1.0" stroke="none">ns</text>
<text x="1259.2" y="182.6" font-size="44" fill="#00c800" text-anchor="middle" stroke="#00c800" stroke-width="0.9" stroke-linejoin="round">*</text>
<text x="1038.0" y="225.2" font-size="44" fill="#0a3cff" text-anchor="middle" stroke="#0a3cff" stroke-width="0.9" stroke-linejoin="round">*</text>
<text x="1094.4" y="225.2" font-size="44" fill="#0a3cff" text-anchor="middle" letter-spacing="-1.6" stroke="#0a3cff" stroke-width="0.9" stroke-linejoin="round">**</text>
<text x="1149.7" y="225.2" font-size="44" fill="#0a3cff" text-anchor="middle" letter-spacing="-1.6" stroke="#0a3cff" stroke-width="0.9" stroke-linejoin="round">**</text>
<text x="1206.0" y="225.2" font-size="44" fill="#0a3cff" text-anchor="middle" letter-spacing="-1.6" stroke="#0a3cff" stroke-width="0.9" stroke-linejoin="round">**</text>
<text x="1261.8000000000002" y="225.2" font-size="44" fill="#0a3cff" text-anchor="middle" letter-spacing="-1.6" stroke="#0a3cff" stroke-width="0.9" stroke-linejoin="round">**</text>
<path d="M881.8 572.9 H983.6" stroke="#0a3cff" stroke-width="2" fill="none"/>
<text x="934.2" y="573.6" font-size="31" fill="#0a3cff" text-anchor="middle" letter-spacing="2.4" stroke="#0a3cff" stroke-width="0.8">++</text>
<path d="M881.8 600.9 H983.6" stroke="#00c800" stroke-width="2" fill="none"/>
<text x="934.2" y="602.2" font-size="31" fill="#00c800" text-anchor="middle" letter-spacing="2.4" stroke="#00c800" stroke-width="0.8">++</text>
<path d="M881.8 628.8 H983.6" stroke="#ff00ff" stroke-width="2" fill="none"/>
<text x="933.6" y="631.4" font-size="31" fill="#ff00ff" text-anchor="middle" stroke="#ff00ff" stroke-width="0.8">+</text>
<path d="M985.6 671.0 V701.6" stroke="#0a3cff" stroke-width="3.9" fill="none"/>
<path d="M981.7 672.8 H989.5 M981.7 699.8000000000001 H989.5" stroke="#0a3cff" stroke-width="3.6" fill="none"/>
<path d="M1040.0500000000002 593.0 V641.2" stroke="#0a3cff" stroke-width="3.9" fill="none"/>
<path d="M1036.15 594.8 H1043.9500000000003 M1036.15 639.4000000000001 H1043.9500000000003" stroke="#0a3cff" stroke-width="3.6" fill="none"/>
<path d="M1094.5 512.5 V587.5" stroke="#0a3cff" stroke-width="3.9" fill="none"/>
<path d="M1090.6 514.3 H1098.4 M1090.6 585.7 H1098.4" stroke="#0a3cff" stroke-width="3.6" fill="none"/>
<path d="M1148.95 450.4 V532.3" stroke="#0a3cff" stroke-width="3.9" fill="none"/>
<path d="M1145.05 452.2 H1152.8500000000001 M1145.05 530.5 H1152.8500000000001" stroke="#0a3cff" stroke-width="3.6" fill="none"/>
<path d="M1203.4 346.1 V423.6" stroke="#0a3cff" stroke-width="3.9" fill="none"/>
<path d="M1199.5 347.90000000000003 H1207.3000000000002 M1199.5 421.8 H1207.3000000000002" stroke="#0a3cff" stroke-width="3.6" fill="none"/>
<path d="M1257.8500000000001 212.4 V307.6" stroke="#0a3cff" stroke-width="3.9" fill="none"/>
<path d="M1253.95 214.20000000000002 H1261.7500000000002 M1253.95 305.8 H1261.7500000000002" stroke="#0a3cff" stroke-width="3.6" fill="none"/>
<path d="M931.1500000000001 766.6 L985.6 686.4 L1040.0500000000002 617.7 L1094.5 550.4 L1148.95 491.0 L1203.4 384.6 L1257.8500000000001 260.3" stroke="#0a3cff" stroke-width="4.0" fill="none" stroke-linejoin="round"/>
<circle cx="876.7" cy="759.0" r="9.9" fill="#0a3cff"/>
<circle cx="931.1500000000001" cy="766.6" r="9.9" fill="#0a3cff"/>
<circle cx="985.6" cy="686.4" r="9.9" fill="#0a3cff"/>
<circle cx="1040.0500000000002" cy="617.7" r="9.9" fill="#0a3cff"/>
<circle cx="1094.5" cy="550.4" r="9.9" fill="#0a3cff"/>
<circle cx="1148.95" cy="491.0" r="9.9" fill="#0a3cff"/>
<circle cx="1203.4" cy="384.6" r="9.9" fill="#0a3cff"/>
<circle cx="1257.8500000000001" cy="260.3" r="9.9" fill="#0a3cff"/>
<path d="M876.7 746.0 V767.0" stroke="#00c800" stroke-width="3.9" fill="none"/>
<path d="M872.8000000000001 747.8 H880.6 M872.8000000000001 765.2 H880.6" stroke="#00c800" stroke-width="3.6" fill="none"/>
<path d="M985.6 650.7 V687.0" stroke="#00c800" stroke-width="3.9" fill="none"/>
<path d="M981.7 652.5 H989.5 M981.7 685.2 H989.5" stroke="#00c800" stroke-width="3.6" fill="none"/>
<path d="M1040.0500000000002 652.9 V677.6" stroke="#00c800" stroke-width="3.9" fill="none"/>
<path d="M1036.15 654.6999999999999 H1043.9500000000003 M1036.15 675.8000000000001 H1043.9500000000003" stroke="#00c800" stroke-width="3.6" fill="none"/>
<path d="M1094.5 659.8 V698.2" stroke="#00c800" stroke-width="3.9" fill="none"/>
<path d="M1090.6 661.5999999999999 H1098.4 M1090.6 696.4000000000001 H1098.4" stroke="#00c800" stroke-width="3.6" fill="none"/>
<path d="M1148.95 656.0 V680.7" stroke="#00c800" stroke-width="3.9" fill="none"/>
<path d="M1145.05 657.8 H1152.8500000000001 M1145.05 678.9000000000001 H1152.8500000000001" stroke="#00c800" stroke-width="3.6" fill="none"/>
<path d="M1203.4 616.4 V634.8" stroke="#00c800" stroke-width="3.9" fill="none"/>
<path d="M1199.5 618.1999999999999 H1207.3000000000002 M1199.5 633.0 H1207.3000000000002" stroke="#00c800" stroke-width="3.6" fill="none"/>
<path d="M1257.8500000000001 541.3 V585.9" stroke="#00c800" stroke-width="3.9" fill="none"/>
<path d="M1253.95 543.0999999999999 H1261.7500000000002 M1253.95 584.1 H1261.7500000000002" stroke="#00c800" stroke-width="3.6" fill="none"/>
<path d="M931.1500000000001 770.4 L985.6 669.2 L1040.0500000000002 665.0 L1094.5 678.8 L1148.95 668.6 L1203.4 625.2 L1257.8500000000001 563.9" stroke="#00c800" stroke-width="4.0" fill="none" stroke-linejoin="round"/>
<circle cx="876.7" cy="756.4" r="9.9" fill="#00c800"/>
<circle cx="931.1500000000001" cy="770.4" r="9.9" fill="#00c800"/>
<circle cx="985.6" cy="669.2" r="9.9" fill="#00c800"/>
<circle cx="1040.0500000000002" cy="665.0" r="9.9" fill="#00c800"/>
<circle cx="1094.5" cy="678.8" r="9.9" fill="#00c800"/>
<circle cx="1148.95" cy="668.6" r="9.9" fill="#00c800"/>
<circle cx="1203.4" cy="625.2" r="9.9" fill="#00c800"/>
<circle cx="1257.8500000000001" cy="563.9" r="9.9" fill="#00c800"/>
<path d="M876.7 759.3 V788.2" stroke="#ff00ff" stroke-width="3.9" fill="none"/>
<path d="M872.8000000000001 761.0999999999999 H880.6 M872.8000000000001 786.4000000000001 H880.6" stroke="#ff00ff" stroke-width="3.6" fill="none"/>
<path d="M985.6 707.0 V733.2" stroke="#ff00ff" stroke-width="3.9" fill="none"/>
<path d="M981.7 708.8 H989.5 M981.7 731.4000000000001 H989.5" stroke="#ff00ff" stroke-width="3.6" fill="none"/>
<path d="M1040.0500000000002 709.8 V729.0" stroke="#ff00ff" stroke-width="3.9" fill="none"/>
<path d="M1036.15 711.5999999999999 H1043.9500000000003 M1036.15 727.2 H1043.9500000000003" stroke="#ff00ff" stroke-width="3.6" fill="none"/>
<path d="M1094.5 721.0 V749.5" stroke="#ff00ff" stroke-width="3.9" fill="none"/>
<path d="M1090.6 722.8 H1098.4 M1090.6 747.7 H1098.4" stroke="#ff00ff" stroke-width="3.6" fill="none"/>
<path d="M1148.95 723.0 V742.4" stroke="#ff00ff" stroke-width="3.9" fill="none"/>
<path d="M1145.05 724.8 H1152.8500000000001 M1145.05 740.6 H1152.8500000000001" stroke="#ff00ff" stroke-width="3.6" fill="none"/>
<path d="M1203.4 692.0 V706.0" stroke="#ff00ff" stroke-width="3.9" fill="none"/>
<path d="M1199.5 693.8 H1207.3000000000002 M1199.5 704.2 H1207.3000000000002" stroke="#ff00ff" stroke-width="3.6" fill="none"/>
<path d="M1257.8500000000001 665.0 V697.5" stroke="#ff00ff" stroke-width="3.9" fill="none"/>
<path d="M1253.95 666.8 H1261.7500000000002 M1253.95 695.7 H1261.7500000000002" stroke="#ff00ff" stroke-width="3.6" fill="none"/>
<path d="M931.1500000000001 773.9 L985.6 720.0 L1040.0500000000002 719.4 L1094.5 734.8 L1148.95 732.9 L1203.4 699.2 L1257.8500000000001 681.0" stroke="#ff00ff" stroke-width="4.0" fill="none" stroke-linejoin="round"/>
<circle cx="876.7" cy="773.9" r="9.9" fill="#ff00ff"/>
<circle cx="931.1500000000001" cy="773.9" r="9.9" fill="#ff00ff"/>
<circle cx="985.6" cy="720.0" r="9.9" fill="#ff00ff"/>
<circle cx="1040.0500000000002" cy="719.4" r="9.9" fill="#ff00ff"/>
<circle cx="1094.5" cy="734.8" r="9.9" fill="#ff00ff"/>
<circle cx="1148.95" cy="732.9" r="9.9" fill="#ff00ff"/>
<circle cx="1203.4" cy="699.2" r="9.9" fill="#ff00ff"/>
<circle cx="1257.8500000000001" cy="681.0" r="9.9" fill="#ff00ff"/>
<text transform="translate(896.4 846.6) rotate(-55)" font-size="41" fill="#231815" stroke="#231815" stroke-width="0.45" text-anchor="end" letter-spacing="2.2">blank</text>
<text transform="translate(957.6 848.0) rotate(-55)" font-size="41" fill="#231815" stroke="#231815" stroke-width="0.45" text-anchor="end" letter-spacing="3.0">0.15</text>
<text transform="translate(1013.0600000000001 848.0) rotate(-55)" font-size="41" fill="#231815" stroke="#231815" stroke-width="0.45" text-anchor="end" letter-spacing="3.0">0.3</text>
<text transform="translate(1068.52 848.0) rotate(-55)" font-size="41" fill="#231815" stroke="#231815" stroke-width="0.45" text-anchor="end" letter-spacing="3.0">0.6</text>
<text transform="translate(1123.98 848.0) rotate(-55)" font-size="41" fill="#231815" stroke="#231815" stroke-width="0.45" text-anchor="end" letter-spacing="3.0">1.3</text>
<text transform="translate(1179.44 848.0) rotate(-55)" font-size="41" fill="#231815" stroke="#231815" stroke-width="0.45" text-anchor="end" letter-spacing="3.0">2.5</text>
<text transform="translate(1234.9 848.0) rotate(-55)" font-size="41" fill="#231815" stroke="#231815" stroke-width="0.45" text-anchor="end" letter-spacing="3.0">5.0</text>
<text transform="translate(1290.3600000000001 848.0) rotate(-55)" font-size="41" fill="#231815" stroke="#231815" stroke-width="0.45" text-anchor="end" letter-spacing="3.0">10</text>
<text x="1184.6" y="966.4" font-size="47" fill="#231815" stroke="#231815" stroke-width="0.5" letter-spacing="2.7">Object size (°)</text>
</g>
<g id="panel-c">
<text x="1395.6" y="74.0" font-size="82" fill="#000" font-weight="bold" >c</text>
<text transform="translate(1449.8 117.4) scale(1.0 1)" font-size="42" fill="#000" stroke="#000" stroke-width="0.5">(n = 7)</text>
<g stroke="#1a1a1a" stroke-width="2.7" fill="none">
<path d="M1452.6 165.6 V827.8 H1896"/>
<path d="M1452.6 223.0 H1459.7"/>
<path d="M1452.6 367.2 H1459.7"/>
<path d="M1452.6 511.4 H1459.7"/>
<path d="M1452.6 655.6 H1459.7"/>
<path d="M1452.6 799.2 H1459.7"/>
<path d="M1508.1 827.8 V819.8"/>
<path d="M1563.6 827.8 V819.8"/>
<path d="M1619.0 827.8 V819.8"/>
<path d="M1674.5 827.8 V819.8"/>
<path d="M1729.9 827.8 V819.8"/>
<path d="M1785.4 827.8 V819.8"/>
<path d="M1840.9 827.8 V819.8"/>
</g>
<text transform="translate(1449.2 239.4) scale(0.95 1)" font-size="42" fill="#000" text-anchor="end" letter-spacing="-1.4" stroke="#000" stroke-width="0.5">1.0</text>
<text transform="translate(1449.2 527.6) scale(0.95 1)" font-size="42" fill="#000" text-anchor="end" letter-spacing="-1.4" stroke="#000" stroke-width="0.5">0.5</text>
<text transform="translate(1449.2 814.8) scale(0.95 1)" font-size="42" fill="#000" text-anchor="end" letter-spacing="-1.4" stroke="#000" stroke-width="0.5">0.0</text>
<text transform="translate(1388.4 665.4) rotate(-90)" font-size="47" fill="#000" stroke="#000" stroke-width="0.5" letter-spacing="0.55">Normalized Δ<tspan font-style="italic">F</tspan>/<tspan font-style="italic">F</tspan><tspan font-style="italic" font-size="27" dy="9.6" dx="-1">0</tspan></text>
<path d="M1563.56 688.6 V707.3" stroke="#0a3cff" stroke-width="3.9" fill="none"/>
<path d="M1559.6599999999999 690.4 H1567.46 M1559.6599999999999 705.5 H1567.46" stroke="#0a3cff" stroke-width="3.6" fill="none"/>
<path d="M1619.02 611.4 V634.6" stroke="#0a3cff" stroke-width="3.9" fill="none"/>
<path d="M1615.12 613.1999999999999 H1622.92 M1615.12 632.8000000000001 H1622.92" stroke="#0a3cff" stroke-width="3.6" fill="none"/>
<path d="M1674.48 524.0 V576.0" stroke="#0a3cff" stroke-width="3.9" fill="none"/>
<path d="M1670.58 525.8 H1678.38 M1670.58 574.2 H1678.38" stroke="#0a3cff" stroke-width="3.6" fill="none"/>
<path d="M1729.9399999999998 464.8 V506.0" stroke="#0a3cff" stroke-width="3.9" fill="none"/>
<path d="M1726.0399999999997 466.6 H1733.84 M1726.0399999999997 504.2 H1733.84" stroke="#0a3cff" stroke-width="3.6" fill="none"/>
<path d="M1785.3999999999999 340.0 V382.0" stroke="#0a3cff" stroke-width="3.9" fill="none"/>
<path d="M1781.4999999999998 341.8 H1789.3 M1781.4999999999998 380.2 H1789.3" stroke="#0a3cff" stroke-width="3.6" fill="none"/>
<path d="M1508.1 781.6 L1563.56 697.9 L1619.02 622.8 L1674.48 550.1 L1729.9399999999998 485.2 L1785.3999999999999 361.1 L1840.86 223.2" stroke="#0a3cff" stroke-width="4.0" fill="none" stroke-linejoin="round"/>
<circle cx="1508.1" cy="781.6" r="9.2" fill="#0a3cff"/>
<circle cx="1563.56" cy="697.9" r="9.2" fill="#0a3cff"/>
<circle cx="1619.02" cy="622.8" r="9.2" fill="#0a3cff"/>
<circle cx="1674.48" cy="550.1" r="9.2" fill="#0a3cff"/>
<circle cx="1729.9399999999998" cy="485.2" r="9.2" fill="#0a3cff"/>
<circle cx="1785.3999999999999" cy="361.1" r="9.2" fill="#0a3cff"/>
<circle cx="1840.86" cy="223.2" r="9.2" fill="#0a3cff"/>
<path d="M1508.1 764.0 V793.3" stroke="#00c800" stroke-width="3.9" fill="none"/>
<path d="M1504.1999999999998 765.8 H1512.0 M1504.1999999999998 791.5 H1512.0" stroke="#00c800" stroke-width="3.6" fill="none"/>
<path d="M1563.56 487.0 V539.7" stroke="#00c800" stroke-width="3.9" fill="none"/>
<path d="M1559.6599999999999 488.8 H1567.46 M1559.6599999999999 537.9000000000001 H1567.46" stroke="#00c800" stroke-width="3.6" fill="none"/>
<path d="M1619.02 475.4 V509.0" stroke="#00c800" stroke-width="3.9" fill="none"/>
<path d="M1615.12 477.2 H1622.92 M1615.12 507.2 H1622.92" stroke="#00c800" stroke-width="3.6" fill="none"/>
<path d="M1674.48 501.6 V573.3" stroke="#00c800" stroke-width="3.9" fill="none"/>
<path d="M1670.58 503.40000000000003 H1678.38 M1670.58 571.5 H1678.38" stroke="#00c800" stroke-width="3.6" fill="none"/>
<path d="M1729.9399999999998 473.0 V525.9" stroke="#00c800" stroke-width="3.9" fill="none"/>
<path d="M1726.0399999999997 474.8 H1733.84 M1726.0399999999997 524.1 H1733.84" stroke="#00c800" stroke-width="3.6" fill="none"/>
<path d="M1785.3999999999999 345.0 V407.8" stroke="#00c800" stroke-width="3.9" fill="none"/>
<path d="M1781.4999999999998 346.8 H1789.3 M1781.4999999999998 406.0 H1789.3" stroke="#00c800" stroke-width="3.6" fill="none"/>
<path d="M1508.1 778.6 L1563.56 513.2 L1619.02 492.2 L1674.48 536.9 L1729.9399999999998 499.4 L1785.3999999999999 376.6 L1840.86 223.2" stroke="#00c800" stroke-width="4.0" fill="none" stroke-linejoin="round"/>
<circle cx="1508.1" cy="778.6" r="9.2" fill="#00c800"/>
<circle cx="1563.56" cy="513.2" r="9.2" fill="#00c800"/>
<circle cx="1619.02" cy="492.2" r="9.2" fill="#00c800"/>
<circle cx="1674.48" cy="536.9" r="9.2" fill="#00c800"/>
<circle cx="1729.9399999999998" cy="499.4" r="9.2" fill="#00c800"/>
<circle cx="1785.3999999999999" cy="376.6" r="9.2" fill="#00c800"/>
<circle cx="1840.86" cy="223.2" r="9.2" fill="#00c800"/>
<path d="M1508.1 738.5 V787.0" stroke="#ff00ff" stroke-width="3.9" fill="none"/>
<path d="M1504.1999999999998 740.3 H1512.0 M1504.1999999999998 785.2 H1512.0" stroke="#ff00ff" stroke-width="3.6" fill="none"/>
<path d="M1563.56 412.0 V543.9" stroke="#ff00ff" stroke-width="3.9" fill="none"/>
<path d="M1559.6599999999999 413.8 H1567.46 M1559.6599999999999 542.1 H1567.46" stroke="#ff00ff" stroke-width="3.6" fill="none"/>
<path d="M1619.02 428.6 V505.6" stroke="#ff00ff" stroke-width="3.9" fill="none"/>
<path d="M1615.12 430.40000000000003 H1622.92 M1615.12 503.8 H1622.92" stroke="#ff00ff" stroke-width="3.6" fill="none"/>
<path d="M1674.48 494.6 V616.6" stroke="#ff00ff" stroke-width="3.9" fill="none"/>
<path d="M1670.58 496.40000000000003 H1678.38 M1670.58 614.8000000000001 H1678.38" stroke="#ff00ff" stroke-width="3.6" fill="none"/>
<path d="M1729.9399999999998 509.0 V588.2" stroke="#ff00ff" stroke-width="3.9" fill="none"/>
<path d="M1726.0399999999997 510.8 H1733.84 M1726.0399999999997 586.4000000000001 H1733.84" stroke="#ff00ff" stroke-width="3.6" fill="none"/>
<path d="M1785.3999999999999 294.2 V382.5" stroke="#ff00ff" stroke-width="3.9" fill="none"/>
<path d="M1781.4999999999998 296.0 H1789.3 M1781.4999999999998 380.7 H1789.3" stroke="#ff00ff" stroke-width="3.6" fill="none"/>
<path d="M1840.86 234.4 V321.9" stroke="#ff00ff" stroke-width="3.9" fill="none"/>
<path d="M1836.9599999999998 236.20000000000002 H1844.76 M1836.9599999999998 320.09999999999997 H1844.76" stroke="#ff00ff" stroke-width="3.6" fill="none"/>
<path d="M1508.1 762.8 L1563.56 478.6 L1619.02 467.8 L1674.48 556.0 L1729.9399999999998 549.7 L1785.3999999999999 338.6 L1840.86 279.4" stroke="#ff00ff" stroke-width="4.0" fill="none" stroke-linejoin="round"/>
<circle cx="1508.1" cy="762.8" r="9.2" fill="#ff00ff"/>
<circle cx="1563.56" cy="478.6" r="9.2" fill="#ff00ff"/>
<circle cx="1619.02" cy="467.8" r="9.2" fill="#ff00ff"/>
<circle cx="1674.48" cy="556.0" r="9.2" fill="#ff00ff"/>
<circle cx="1729.9399999999998" cy="549.7" r="9.2" fill="#ff00ff"/>
<circle cx="1785.3999999999999" cy="338.6" r="9.2" fill="#ff00ff"/>
<circle cx="1840.86" cy="279.4" r="9.2" fill="#ff00ff"/>
<text x="1624.0" y="432.6" font-size="44" fill="#ff00ff" text-anchor="middle" letter-spacing="-1.6" stroke="#ff00ff" stroke-width="0.9" stroke-linejoin="round">**</text>
<text x="1622.0" y="560.2" font-size="44" fill="#00c800" text-anchor="middle" letter-spacing="-1.6" stroke="#00c800" stroke-width="0.9" stroke-linejoin="round">**</text>
<text x="1576.4" y="591.6" font-size="44" fill="#00c800" text-anchor="middle" letter-spacing="-1.6" stroke="#00c800" stroke-width="0.9" stroke-linejoin="round">**</text>
<text transform="translate(1536.5 847.8) rotate(-55)" font-size="41" fill="#231815" stroke="#231815" stroke-width="0.45" text-anchor="end" letter-spacing="3.0">0.15</text>
<text transform="translate(1591.96 847.8) rotate(-55)" font-size="41" fill="#231815" stroke="#231815" stroke-width="0.45" text-anchor="end" letter-spacing="3.0">0.3</text>
<text transform="translate(1647.42 847.8) rotate(-55)" font-size="41" fill="#231815" stroke="#231815" stroke-width="0.45" text-anchor="end" letter-spacing="3.0">0.6</text>
<text transform="translate(1702.88 847.8) rotate(-55)" font-size="41" fill="#231815" stroke="#231815" stroke-width="0.45" text-anchor="end" letter-spacing="3.0">1.3</text>
<text transform="translate(1758.34 847.8) rotate(-55)" font-size="41" fill="#231815" stroke="#231815" stroke-width="0.45" text-anchor="end" letter-spacing="3.0">2.5</text>
<text transform="translate(1813.8 847.8) rotate(-55)" font-size="41" fill="#231815" stroke="#231815" stroke-width="0.45" text-anchor="end" letter-spacing="3.0">5.0</text>
<text transform="translate(1869.26 847.8) rotate(-55)" font-size="41" fill="#231815" stroke="#231815" stroke-width="0.45" text-anchor="end" letter-spacing="3.0">10</text>
</g>
</svg>
</body></html>
